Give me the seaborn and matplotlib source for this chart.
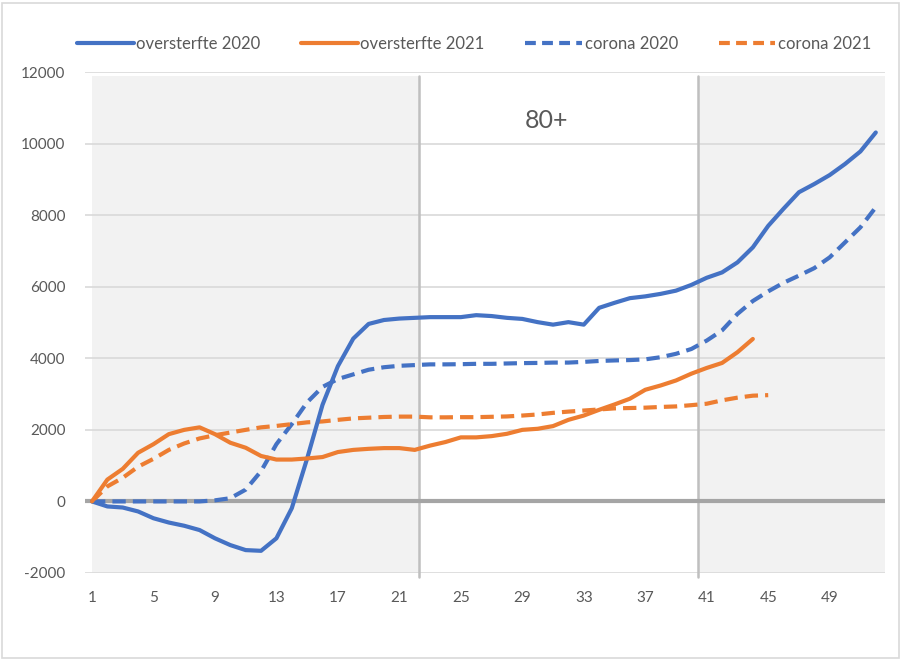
import matplotlib
matplotlib.use("Agg")
import matplotlib.pyplot as plt
import seaborn as sns
import pandas as pd
from matplotlib.patches import Rectangle
from matplotlib.lines import Line2D

# ---------------- data ----------------
weeks_2020 = list(range(1, 53))
oversterfte_2020 = [0, -140, -170, -280, -470, -590, -680, -800, -1030, -1220,
                    -1360, -1380, -1030, -190, 1200, 2700, 3780, 4550, 4960, 5070,
                    5110, 5130, 5150, 5150, 5150, 5205, 5180, 5130, 5100, 5010,
                    4940, 5010, 4940, 5410, 5550, 5680, 5730, 5800, 5890, 6050,
                    6250, 6400, 6680, 7100, 7700, 8180, 8640, 8870, 9120, 9430,
                    9780, 10310]
corona_2020 = [0, 0, 0, 0, 0, 0, 0, 0, 30, 90,
               330, 845, 1600, 2160, 2770, 3200, 3420, 3550, 3680, 3750,
               3790, 3810, 3830, 3830, 3835, 3845, 3845, 3855, 3865, 3870,
               3880, 3880, 3900, 3925, 3940, 3950, 3970, 4030, 4125, 4260,
               4495, 4780, 5240, 5600, 5870, 6110, 6310, 6520, 6820, 7240,
               7660, 8220]
weeks_o2021 = list(range(1, 45))
oversterfte_2021 = [0, 610, 910, 1360, 1600, 1880, 2000, 2070, 1880, 1640,
                    1500, 1270, 1170, 1170, 1200, 1240, 1380, 1440, 1470, 1490,
                    1490, 1440, 1560, 1660, 1790, 1790, 1825, 1890, 2000, 2030,
                    2105, 2280, 2400, 2560, 2710, 2870, 3120, 3240, 3380, 3570,
                    3730, 3870, 4170, 4540]
weeks_c2021 = list(range(1, 46))
corona_2021 = [0, 420, 660, 970, 1190, 1440, 1620, 1760, 1850, 1925,
               2000, 2070, 2110, 2160, 2210, 2235, 2280, 2320, 2340, 2360,
               2370, 2370, 2350, 2350, 2355, 2355, 2365, 2375, 2400, 2430,
               2475, 2510, 2540, 2570, 2600, 2610, 2620, 2640, 2655, 2690,
               2730, 2825, 2900, 2955, 2970]
series_labels = ["oversterfte 2020", "oversterfte 2021", "corona 2020", "corona 2021"]
x_ticks = list(range(1, 50, 4))
y_ticks = list(range(-2000, 12001, 2000))
panel_label = "80+"
shade_ranges = [(1, 22.3), (40.4, 52.6)]
divider_weeks = [22.3, 40.4]

# ---------------- style ----------------
sns.set_theme(style="white")
plt.rcParams['font.family'] = ['Lato', 'DejaVu Sans']
plt.rcParams['axes.unicode_minus'] = False

BLUE = "#4472C4"
ORANGE = "#ED7D31"
TXT = "#595959"

fig = plt.figure(figsize=(9.02, 6.6), dpi=100)
fig.patch.set_facecolor("white")
ax = fig.add_axes([85 / 902, 87 / 660, 800 / 902, 501 / 660])
ax.set_facecolor("white")
ax.set_xlim(0.545, 52.6)
ax.set_ylim(-2000, 12000)

for (a, b) in shade_ranges:
    ax.axvspan(a, b, ymin=0, ymax=0.992, color="#F2F2F2", lw=0, zorder=0)

for y in y_ticks:
    if y == 0:
        continue
    ax.axhline(y, color="#D9D9D9", lw=1.2, zorder=1)
ax.axhline(0, color="#A5A5A5", lw=3.0, zorder=1.5)

for w in divider_weeks:
    ax.axvline(w, ymin=-0.008, ymax=0.992, color="#BFBFBF", lw=1.8, zorder=1.2, clip_on=False)

df1 = pd.DataFrame({"week": weeks_2020, "v": oversterfte_2020})
df2 = pd.DataFrame({"week": weeks_o2021, "v": oversterfte_2021})
df3 = pd.DataFrame({"week": weeks_2020, "v": corona_2020})
df4 = pd.DataFrame({"week": weeks_c2021, "v": corona_2021})

LW = 3.0
dash = (3.2, 1.7)
sns.lineplot(data=df1, x="week", y="v", ax=ax, color=BLUE, lw=LW, zorder=5,
             solid_capstyle="round")
sns.lineplot(data=df2, x="week", y="v", ax=ax, color=ORANGE, lw=LW, zorder=5,
             solid_capstyle="round")
sns.lineplot(data=df3, x="week", y="v", ax=ax, color=BLUE, lw=LW, zorder=4)
ax.lines[-1].set_dashes(dash)
sns.lineplot(data=df4, x="week", y="v", ax=ax, color=ORANGE, lw=LW, zorder=4)
ax.lines[-1].set_dashes(dash)

ax.set_xlabel("")
ax.set_ylabel("")
ax.set_xticks(x_ticks)
ax.set_yticks(y_ticks)
ax.tick_params(axis="both", length=0, labelsize=11, colors=TXT)
ax.tick_params(axis="y", pad=14)
ax.tick_params(axis="x", pad=13)
for s in ax.spines.values():
    s.set_visible(False)

ax.text(30.6, 10640, panel_label, ha="center", va="center", fontsize=18, color=TXT)

handles = [
    Line2D([0], [0], color=BLUE, lw=LW, solid_capstyle="round"),
    Line2D([0], [0], color=ORANGE, lw=LW, solid_capstyle="round"),
    Line2D([0], [0], color=BLUE, lw=LW, dashes=(2.6, 1.5)),
    Line2D([0], [0], color=ORANGE, lw=LW, dashes=(2.6, 1.5)),
]
leg = fig.legend(handles, series_labels, loc="center", bbox_to_anchor=(474 / 902, 1 - 44 / 660),
                 ncol=4, frameon=False, fontsize=12, handlelength=3.4, handletextpad=0.15,
                 columnspacing=2.45, labelcolor=TXT)

fig.patches.append(Rectangle((2 / 902, 2 / 660), 897 / 902, 655 / 660, transform=fig.transFigure,
                             fill=False, edgecolor="#D9D9D9", lw=1.2))

fig.savefig("out.png", dpi=100)
